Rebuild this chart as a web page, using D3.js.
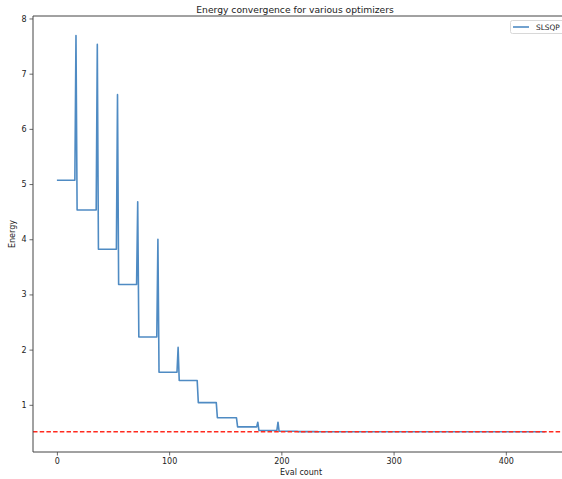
<!DOCTYPE html>
<html>
<head>
<meta charset="utf-8">
<script src="https://cdn.jsdelivr.net/npm/d3@7"></script>
<style>
  html, body { margin: 0; padding: 0; background: #fff; }
  svg { display: block; }
  text { font-family: "DejaVu Sans", sans-serif; fill: #222; }
</style>
</head>
<body>
<svg id="chart" width="562" height="479"></svg>
<script>
// ---- data ----
const evalCounts = [0, 16, 17, 18, 35, 36, 37, 53, 54, 55, 71, 72, 73, 89, 90, 91,
  107, 108, 109, 125, 126, 142, 143, 160, 161, 178, 179, 180, 196, 197, 198,
  214, 215, 232, 233, 435];
const energies = [5.07, 5.07, 7.69, 4.53, 4.53, 7.53, 3.82, 3.82, 6.62, 3.18, 3.18, 4.68, 2.23, 2.23, 4.00, 1.59,
  1.59, 2.04, 1.44, 1.44, 1.04, 1.04, 0.765, 0.765, 0.60, 0.60, 0.685, 0.535, 0.535, 0.685, 0.52,
  0.52, 0.515, 0.515, 0.512, 0.512];
const referenceEnergy = [0.512];
const xTicks = [0, 100, 200, 300, 400];
const yTicks = [1, 2, 3, 4, 5, 6, 7, 8];
const seriesName = ["SLSQP"];
const titleText = ["Energy convergence for various optimizers"];
const axisLabels = ["Eval count", "Energy"];

// ---- layout ----
const plot = { left: 33, right: 569, top: 16, bottom: 452 };
const svg = d3.select("#chart");

const x = d3.scaleLinear().domain([-21.3, 456.3]).range([plot.left, plot.right]);
const y = d3.scaleLinear().domain([0.145, 8.045]).range([plot.bottom, plot.top]);

svg.append("defs").append("clipPath").attr("id", "clip")
  .append("rect").attr("x", plot.left).attr("y", plot.top)
  .attr("width", plot.right - plot.left).attr("height", plot.bottom - plot.top);

const g = svg.append("g").attr("clip-path", "url(#clip)");

const pts = evalCounts.map((e, i) => [e, energies[i]]);
const line = d3.line().x(d => x(d[0])).y(d => y(d[1]));
g.append("path").datum(pts)
  .attr("d", line)
  .attr("fill", "none")
  .attr("stroke", "#4f8bc3")
  .attr("stroke-width", 1.6)
  .attr("stroke-linejoin", "round");

g.append("line")
  .attr("x1", plot.left).attr("x2", plot.right)
  .attr("y1", y(referenceEnergy[0])).attr("y2", y(referenceEnergy[0]))
  .attr("stroke", "#ff2a1f").attr("stroke-width", 1.3)
  .attr("stroke-dasharray", "4.5,2.2");

// axes
const xAxis = d3.axisBottom(x).tickValues(xTicks).tickSize(3.5).tickPadding(2.5).tickFormat(d3.format("d"));
const yAxis = d3.axisLeft(y).tickValues(yTicks).tickSize(3.5).tickPadding(3).tickFormat(d3.format("d"));

const gx = svg.append("g").attr("transform", `translate(0,${plot.bottom})`).call(xAxis);
const gy = svg.append("g").attr("transform", `translate(${plot.left},0)`).call(yAxis);
[gx, gy].forEach(a => {
  a.select(".domain").remove();
  a.selectAll(".tick line").attr("stroke", "#444").attr("stroke-width", 0.8);
  a.selectAll(".tick text").attr("font-size", 8).attr("fill", "#222")
    .attr("font-family", "DejaVu Sans, sans-serif");
});

// spines
svg.append("line").attr("x1", plot.left).attr("x2", plot.left).attr("y1", plot.top).attr("y2", plot.bottom)
  .attr("stroke", "#444").attr("stroke-width", 1);
svg.append("line").attr("x1", plot.left).attr("x2", plot.right).attr("y1", plot.bottom).attr("y2", plot.bottom)
  .attr("stroke", "#444").attr("stroke-width", 1);
svg.append("line").attr("x1", plot.left).attr("x2", plot.right).attr("y1", plot.top).attr("y2", plot.top)
  .attr("stroke", "#444").attr("stroke-width", 1);

// title & labels
svg.append("text").attr("x", 295).attr("y", 12.5).attr("text-anchor", "middle")
  .attr("font-size", 9.2).text(titleText[0]);
svg.append("text").attr("x", 301).attr("y", 475).attr("text-anchor", "middle")
  .attr("font-size", 8).text(axisLabels[0]);
svg.append("text").attr("transform", "translate(15,234) rotate(-90)").attr("text-anchor", "middle")
  .attr("font-size", 8).text(axisLabels[1]);

// legend
const lg = svg.append("g");
lg.append("rect").attr("x", 510.5).attr("y", 20.5).attr("width", 60).attr("height", 13)
  .attr("fill", "#fff").attr("stroke", "#d8d8d8").attr("stroke-width", 1).attr("rx", 2);
lg.append("line").attr("x1", 513).attr("x2", 529).attr("y1", 27).attr("y2", 27)
  .attr("stroke", "#4f8bc3").attr("stroke-width", 1.6);
lg.append("text").attr("x", 536).attr("y", 30).attr("font-size", 7.4).text(seriesName[0]);
</script>
</body>
</html>
